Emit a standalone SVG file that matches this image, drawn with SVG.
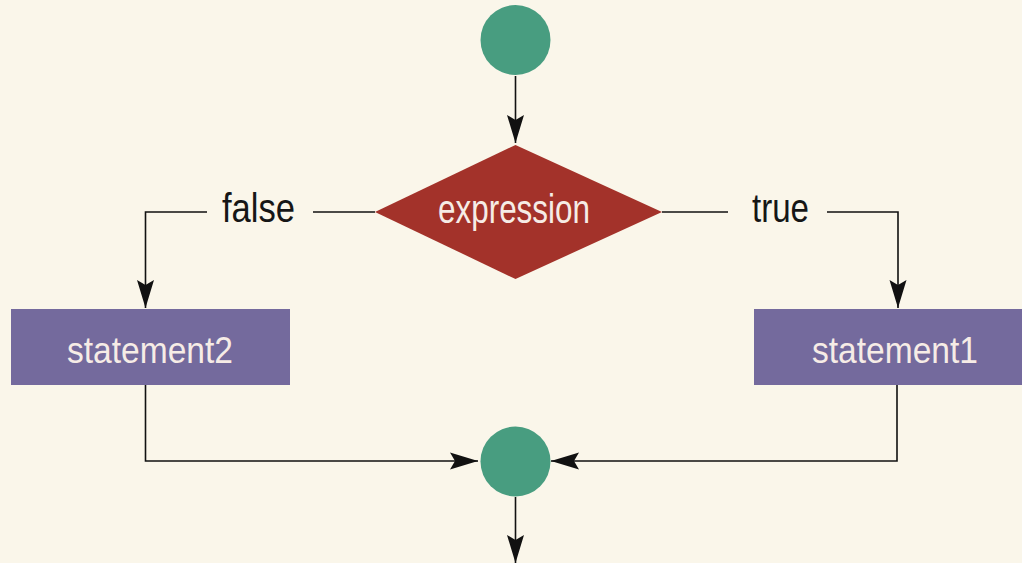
<svg xmlns="http://www.w3.org/2000/svg" width="1022" height="563" viewBox="0 0 1022 563">
  <style>
    .bg { fill: #faf6ea; }
    .term { fill: #489d80; }
    .decision { fill: #a3322a; }
    .stmt { fill: #746a9d; }
    .wire { fill: none; stroke: #111; stroke-width: 1.6; }
    .lbl { font-family: "Liberation Sans", "DejaVu Sans", sans-serif; font-size: 40px; text-anchor: middle; }
    .lbl-stmt { font-size: 37px; }
    .lbl-dark { fill: #161616; }
    .lbl-light { fill: #f6ece6; }
  </style>
  <defs>
    <marker id="arrow" markerUnits="userSpaceOnUse" markerWidth="30" markerHeight="18" viewBox="0 -9 30 18" refX="28" refY="0" orient="auto">
      <path d="M0,-8.5 L28,0 L0,8.5 L5,0 z" fill="#111"/>
    </marker>
  </defs>

  <rect class="bg" x="0" y="0" width="1022" height="563"/>

  <!-- connectors -->
  <g id="connectors">
    <path class="wire" d="M515.5,76 V143" marker-end="url(#arrow)"/>
    <path class="wire" d="M375,212 H313"/>
    <path class="wire" d="M207,212 H145.5 V308" marker-end="url(#arrow)"/>
    <path class="wire" d="M662,212 H728"/>
    <path class="wire" d="M827,212 H898 V308" marker-end="url(#arrow)"/>
    <path class="wire" d="M145.5,385 V461 H478" marker-end="url(#arrow)"/>
    <path class="wire" d="M897,385 V461 H551" marker-end="url(#arrow)"/>
    <path class="wire" d="M515.5,497 V563" marker-end="url(#arrow)"/>
    <text class="lbl lbl-dark" x="258.5" y="222" textLength="73" lengthAdjust="spacingAndGlyphs">false</text>
    <text class="lbl lbl-dark" x="780.5" y="222" textLength="57" lengthAdjust="spacingAndGlyphs">true</text>
  </g>

  <g id="start">
    <circle class="term" cx="515.5" cy="40" r="35"/>
  </g>

  <g id="expression">
    <polygon class="decision" points="515.5,145 662,212 515.5,279 375,212"/>
    <text class="lbl lbl-light" x="514" y="223" textLength="152" lengthAdjust="spacingAndGlyphs">expression</text>
  </g>

  <g id="statement2">
    <rect class="stmt" x="11" y="309" width="279" height="76"/>
    <text class="lbl lbl-stmt lbl-light" x="150" y="363" textLength="166" lengthAdjust="spacingAndGlyphs">statement2</text>
  </g>

  <g id="statement1">
    <rect class="stmt" x="754" y="309" width="268" height="76"/>
    <text class="lbl lbl-stmt lbl-light" x="895" y="363" textLength="166" lengthAdjust="spacingAndGlyphs">statement1</text>
  </g>

  <g id="end">
    <circle class="term" cx="515.5" cy="461.5" r="35"/>
  </g>
</svg>
